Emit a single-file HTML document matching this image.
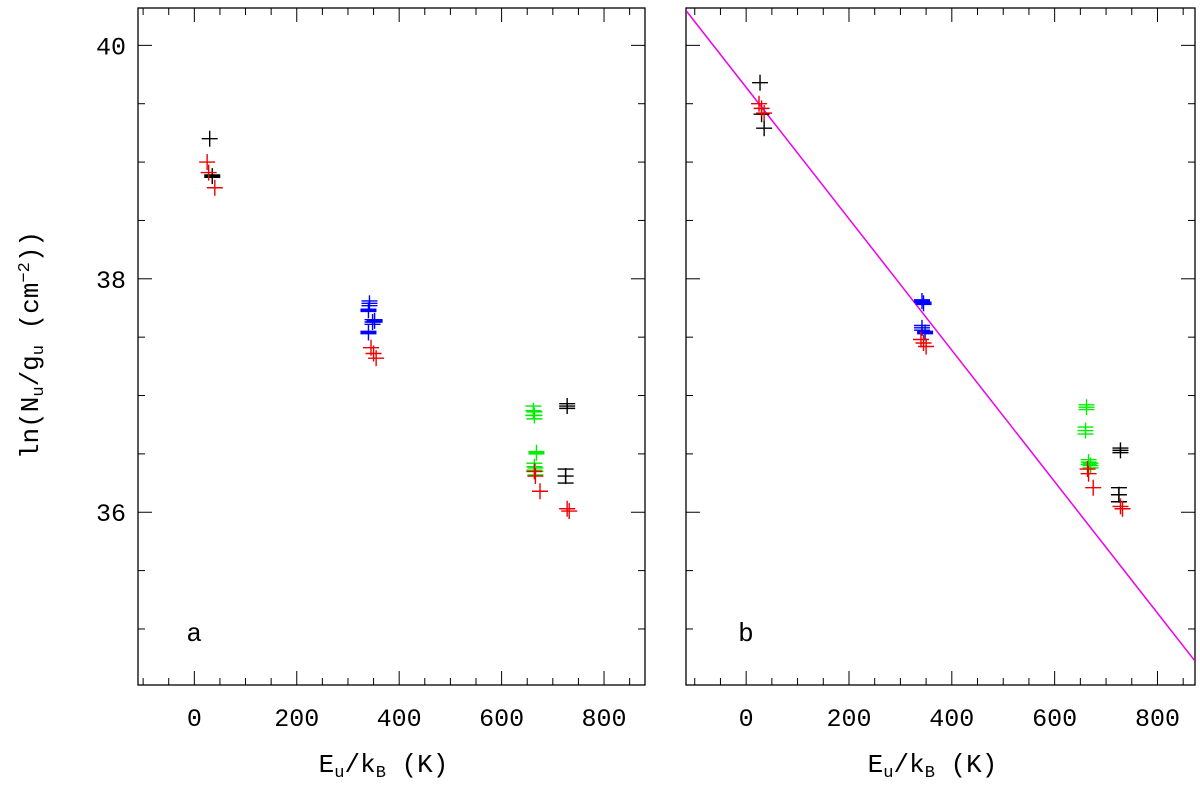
<!DOCTYPE html>
<html><head><meta charset="utf-8"><style>
body{margin:0;background:#fff;}
svg text{font-family:"Liberation Mono",monospace;}
</style></head><body>
<svg id="c" width="1200" height="785" xmlns="http://www.w3.org/2000/svg"></svg>
<script>
const xTicks=[0,200,400,600,800];
const yTicks=[36,38,40];
// panel a
const aX=[30,35,25,28,40,342,340,348,352,340,345,350,355,662,664,668,664,666,664,666,675,728,725,728,732];
const aY=[39.20,38.88,39.00,38.91,38.78,37.79,37.73,37.63,37.64,37.54,37.41,37.36,37.32,36.87,36.83,36.51,36.39,36.35,36.35,36.31,36.18,36.91,36.31,36.03,36.01];
const aC=['k','k','r','r','r','b','b','b','b','b','r','r','r','g','g','g','g','g','r','r','r','k','k','r','r'];
const aE=[0,0.01,0,0,0,0.02,0.01,0.02,0.01,0.01,0,0,0,0.04,0.03,0.01,0.03,0.03,0,0,0,0.02,0.06,0,0];
// panel b
const bX=[27,30,35,25,30,35,342,345,342,348,340,345,350,662,660,666,670,664,666,675,728,725,728,732];
const bY=[39.68,39.41,39.29,39.50,39.46,39.42,37.81,37.79,37.58,37.54,37.48,37.45,37.42,36.90,36.70,36.43,36.40,36.37,36.33,36.21,36.53,36.15,36.05,36.03];
const bC=['k','k','k','r','r','r','b','b','b','b','r','r','r','g','g','g','g','r','r','r','k','k','r','r'];
const bE=[0,0,0,0,0,0,0.01,0.01,0.02,0.01,0,0,0,0.02,0.03,0.02,0.02,0,0,0,0.02,0.06,0,0];
const fitLine=[39.64,-0.00563];
const col={k:'#000',r:'#e00',b:'#00f',g:'#0e0'};
const NS='http://www.w3.org/2000/svg';
const svg=document.getElementById('c');
function mk(t,a,p){const e=document.createElementNS(NS,t);for(const k in a)e.setAttribute(k,a[k]);(p||svg).appendChild(e);return e;}
const Y0=34.52,Y1=40.32,TOPY=8,BOTY=685;
function panel(L,R,X0,X1,xs,ys,cs,es,lab,name,fit){
  const g=mk('g',{});
  
  
  const sx=v=>L+(v-X0)/(X1-X0)*(R-L), sy=v=>BOTY-(v-Y0)/(Y1-Y0)*(BOTY-TOPY);
  const fr=mk('rect',{x:L,y:TOPY,width:R-L,height:BOTY-TOPY,fill:'none',stroke:'#000','stroke-width':1.3},g);
  
  
  for(let v=-100;v<=X1;v+=50){const M=v%200==0;const x=sx(v);
    mk('line',{x1:x,x2:x,y1:BOTY,y2:BOTY-(M?14:7),stroke:'#000'},g);
    mk('line',{x1:x,x2:x,y1:TOPY,y2:TOPY+(M?14:7),stroke:'#000'},g);}
  xTicks.forEach(v=>{const t=mk('text',{x:sx(v),y:BOTY+41,'font-size':25,'text-anchor':'middle'},g);t.textContent=v;
    
    });
  for(let v=35;v<=Y1;v+=0.5){const M=Math.abs(v%2)<1e-9;const y=sy(v);
    mk('line',{x1:L,x2:L+(M?14:7),y1:y,y2:y,stroke:'#000'},g);
    mk('line',{x1:R,x2:R-(M?14:7),y1:y,y2:y,stroke:'#000'},g);}
  if(name==='panel-a')yTicks.forEach(v=>{const t=mk('text',{x:L-12,y:sy(v)+9,'font-size':25,'text-anchor':'end'},g);t.textContent=v;
    
    });
  if(fit){const cp=mk('clipPath',{id:'cp'+name},g);mk('rect',{x:L,y:TOPY,width:R-L,height:BOTY-TOPY},cp);
    const ln=mk('line',{x1:sx(X0),y1:sy(fit[0]+fit[1]*X0),x2:sx(X1),y2:sy(fit[0]+fit[1]*X1),stroke:'#e0e','stroke-width':1.5,'clip-path':'url(#cp'+name+')'},g);
    
    }
  xs.forEach((v,i)=>{const x=sx(v),y=sy(ys[i]),c=col[cs[i]];
    const p=mk('g',{stroke:c,'stroke-width':1.4},g);
    
    
    mk('line',{x1:x-8,x2:x+8,y1:y,y2:y},p);
    mk('line',{x1:x,x2:x,y1:y-8,y2:y+8},p);
    if(es[i]>0){const d=es[i]*(BOTY-TOPY)/(Y1-Y0);
      mk('line',{x1:x-8,x2:x+8,y1:y-d,y2:y-d},p);mk('line',{x1:x-8,x2:x+8,y1:y+d,y2:y+d},p);
      mk('line',{x1:x,x2:x,y1:y-d,y2:y+d},p);}
  });
  const t=mk('text',{x:sx(0)-8,y:641,'font-size':26},g);t.textContent=lab;
  
  
  const xl=mk('text',{x:(L+R)/2-8,y:772,'font-size':26,'text-anchor':'middle'},g);
  xl.innerHTML='E<tspan dy="5" font-size="17">u</tspan><tspan dy="-5">/k</tspan><tspan dy="5" font-size="17">B</tspan><tspan dy="-5"> (K)</tspan>';
  
  
}
panel(138,645,-110,880,aX,aY,aC,aE,'a','panel-a',null);
panel(686,1195,-117,873,bX,bY,bC,bE,'b','panel-b',fitLine);
const yl=mk('text',{x:0,y:0,'font-size':26,'text-anchor':'middle',transform:'translate(38,345) rotate(-90)'});
yl.innerHTML='ln(N<tspan dy="5" font-size="17">u</tspan><tspan dy="-5">/g</tspan><tspan dy="5" font-size="17">u</tspan><tspan dy="-5"> (cm</tspan><tspan dy="-9" font-size="17">−2</tspan><tspan dy="9">))</tspan>';


</script>
</body></html>
